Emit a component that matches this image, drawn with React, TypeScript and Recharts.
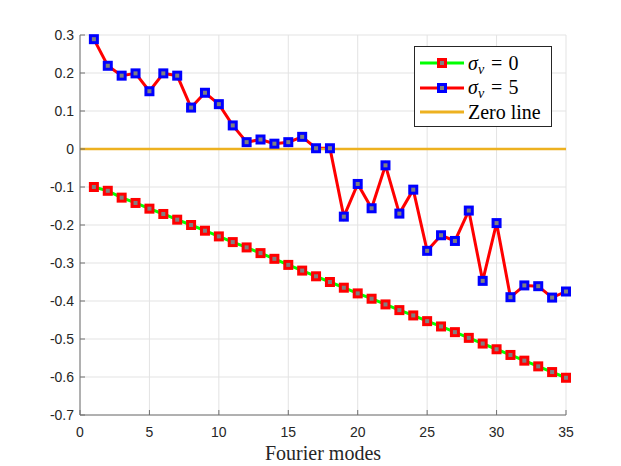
import { ComposedChart, Line, XAxis, YAxis, CartesianGrid, ReferenceLine } from "recharts"

const modes = [1, 2, 3, 4, 5, 6, 7, 8, 9, 10, 11, 12, 13, 14, 15, 16, 17, 18, 19, 20, 21, 22, 23, 24, 25, 26, 27, 28, 29, 30, 31, 32, 33, 34, 35]

// sigma_v = 0 (green line, red markers)
const sigma0 = [
  -0.1, -0.11, -0.128, -0.142, -0.157, -0.171, -0.186, -0.2, -0.215, -0.23, -0.245, -0.259,
  -0.274, -0.289, -0.305, -0.32, -0.335, -0.35, -0.365, -0.38, -0.394, -0.409, -0.424, -0.438,
  -0.453, -0.467, -0.482, -0.497, -0.512, -0.527, -0.542, -0.557, -0.572, -0.587, -0.602,
]

// sigma_v = 5 (red line, blue markers)
const sigma5 = [
  0.289, 0.219, 0.193, 0.199, 0.152, 0.199, 0.193, 0.109, 0.148, 0.118, 0.062, 0.018,
  0.025, 0.014, 0.018, 0.032, 0.002, 0.002, -0.178, -0.092, -0.156, -0.043, -0.17, -0.107,
  -0.268, -0.227, -0.242, -0.162, -0.347, -0.195, -0.39, -0.359, -0.361, -0.391, -0.375,
]

const xTicks = [0, 5, 10, 15, 20, 25, 30, 35]
const yTicks = [-0.7, -0.6, -0.5, -0.4, -0.3, -0.2, -0.1, 0, 0.1, 0.2, 0.3]

const data = modes.map((m, i) => ({ mode: m, s0: sigma0[i], s5: sigma5[i] }))

const sans = "Liberation Sans, Arial, sans-serif"
const serif = "Liberation Serif, Times New Roman, serif"
const axisGray = "#707070"
const X_MARGIN = 12
const Y_MARGIN = 6

const fmtY = (v: number) => (Math.abs(v) < 1e-9 ? "0" : v.toFixed(1))

// MATLAB-style ticks: small marks pointing into the axes
const XTick = (props: any) => {
  const { x, y, payload } = props
  const ay = y - X_MARGIN
  return (
    <g>
      <line x1={x} x2={x} y1={ay} y2={ay - 5} stroke={axisGray} strokeWidth={1} />
      <text x={x} y={y} dy="0.71em" textAnchor="middle" fill="#262626" fontSize={14} fontFamily={sans}>
        {payload.value}
      </text>
    </g>
  )
}

const YTick = (props: any) => {
  const { x, y, payload } = props
  const ax = x + Y_MARGIN
  return (
    <g>
      <line x1={ax} x2={ax + 5} y1={y} y2={y} stroke={axisGray} strokeWidth={1} />
      <text x={x} y={y} dy="0.355em" textAnchor="end" fill="#262626" fontSize={14} fontFamily={sans}>
        {fmtY(payload.value)}
      </text>
    </g>
  )
}

const squareDot = (edge: string) => (props: any) => {
  const { cx, cy, index } = props
  if (cx == null || cy == null) return <g key={`n-${index}`} />
  return <rect key={`d-${index}`} x={cx - 3.5} y={cy - 3.5} width={7} height={7} fill="#808080" stroke={edge} strokeWidth={3} />
}

function LegendRow({ line, edge, children }: { line: string; edge?: string; children: React.ReactNode }) {
  return (
    <div style={{ display: "flex", alignItems: "center", height: 24.5 }}>
      <svg width={48} height={14} style={{ flex: "none" }}>
        <line x1={0} x2={44} y1={7} y2={7} stroke={line} strokeWidth={3} />
        {edge && <rect x={18.5} y={3.5} width={7} height={7} fill="#808080" stroke={edge} strokeWidth={3} />}
      </svg>
      <span style={{ fontFamily: serif, fontSize: 20, color: "#000", whiteSpace: "nowrap" }}>{children}</span>
    </div>
  )
}

function Sigma({ value }: { value: string }) {
  const sub = { fontSize: 14, fontStyle: "italic" as const, verticalAlign: "-4px", lineHeight: 0 }
  return (
    <>
      <i>σ</i>
      <sub style={sub}>v</sub>
      <span style={{ margin: "0 6px 0 7px" }}>=</span>
      {value}
    </>
  )
}

function LegendBox() {
  return (
    <div
      style={{
        position: "absolute",
        left: 414,
        top: 46,
        width: 131,
        height: 75,
        padding: "4px 0 0 5px",
        background: "#fff",
        border: "1px solid #262626",
        boxSizing: "content-box",
      }}
    >
      <LegendRow line="#00ff00" edge="#ff0000">
        <Sigma value="0" />
      </LegendRow>
      <LegendRow line="#ff0000" edge="#0000ff">
        <Sigma value="5" />
      </LegendRow>
      <LegendRow line="#edb120">Zero line</LegendRow>
    </div>
  )
}

export default function App() {
  return (
    <div style={{ position: "absolute", left: 0, top: 0, width: 621, height: 466, background: "#fff" }}>
      <ComposedChart width={621} height={466} data={data} margin={{ top: 35, right: 55, bottom: 0, left: 0 }}>
        <CartesianGrid stroke="#e3e3e3" strokeWidth={1} />
        <XAxis
          dataKey="mode"
          type="number"
          domain={[0, 35]}
          ticks={xTicks}
          height={51}
          tickLine={false}
          tickSize={0}
          tickMargin={X_MARGIN}
          tick={<XTick />}
          axisLine={{ stroke: axisGray, strokeWidth: 1 }}
          label={{ value: "Fourier modes", position: "insideBottom", offset: 6, style: { fontFamily: serif, fontSize: 20, fill: "#262626" } }}
        />
        <YAxis
          type="number"
          domain={[-0.7, 0.3]}
          ticks={yTicks}
          width={80}
          tickLine={false}
          tickSize={0}
          tickMargin={Y_MARGIN}
          tick={<YTick />}
          axisLine={{ stroke: axisGray, strokeWidth: 1 }}
        />
        <Line dataKey="s0" stroke="#00ff00" strokeWidth={3} dot={squareDot("#ff0000")} activeDot={false} isAnimationActive={false} />
        <Line dataKey="s5" stroke="#ff0000" strokeWidth={3} dot={squareDot("#0000ff")} activeDot={false} isAnimationActive={false} />
        <ReferenceLine y={0} stroke="#edb120" strokeWidth={2.5} />
      </ComposedChart>
      <LegendBox />
    </div>
  )
}
